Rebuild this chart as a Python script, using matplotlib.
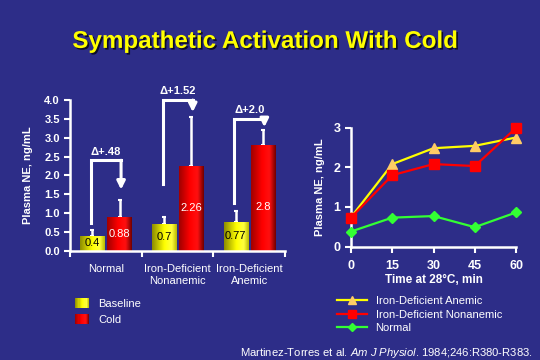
import numpy as np
import matplotlib
matplotlib.use("Agg")
import matplotlib.pyplot as plt
from matplotlib.colors import LinearSegmentedColormap
from matplotlib.patches import Patch, Rectangle
from matplotlib.legend_handler import HandlerBase
import matplotlib.patheffects as pe

BG = "#2d2d88"

# 柱状图数据
groups = ["Normal", "Iron-Deficient\nNonanemic", "Iron-Deficient\nAnemic"]
baseline = [0.4, 0.7, 0.77]
cold = [0.88, 2.26, 2.8]
baseline_err = [0.15, 0.2, 0.28]
cold_err = [0.47, 1.29, 0.4]
delta_labels = ["\u0394+.48", "\u0394+1.52", "\u0394+2.0"]

# 折线图数据
minutes = [0, 15, 30, 45, 60]
anemic = [0.74, 2.08, 2.48, 2.54, 2.75]
nonanemic = [0.73, 1.80, 2.08, 2.03, 2.99]
normal = [0.38, 0.73, 0.77, 0.49, 0.86]

plt.rcParams['font.family'] = ['Liberation Sans', 'DejaVu Sans']
plt.rcParams['mathtext.fontset'] = 'custom'
plt.rcParams['mathtext.rm'] = 'Liberation Sans'
plt.rcParams['mathtext.it'] = 'Liberation Sans:italic'

YEL = LinearSegmentedColormap.from_list(
    "yel", [(0, "#8c8c00"), (0.5, "#ffff00"), (0.8, "#ffff40"), (1, "#b8b800")])
RED = LinearSegmentedColormap.from_list(
    "red", [(0, "#a00000"), (0.45, "#ff0000"), (0.75, "#ff1010"), (1, "#700000")])


class HandlerGradient(HandlerBase):
    ''' 图例里的渐变色块 '''

    def __init__(self, cmap, n=12):
        super().__init__()
        self.cmap = cmap
        self.n = n

    def create_artists(self, legend, orig_handle, xdescent, ydescent,
                       width, height, fontsize, trans):
        arts = []
        dw = width / self.n
        for k in range(self.n):
            r = Rectangle((-xdescent + k * dw, -ydescent), dw * 1.05, height,
                          facecolor=self.cmap((k + 0.5) / self.n),
                          edgecolor="none", transform=trans)
            arts.append(r)
        return arts


def gradient_fill(ax, bars, cmap):
    ''' 给柱子加上圆柱状的渐变 '''
    grad = np.linspace(0, 1, 64).reshape(1, -1)
    for b in bars:
        x, y = b.get_x(), b.get_y()
        w, h = b.get_width(), b.get_height()
        im = ax.imshow(grad, cmap=cmap, extent=[x, x + w, y, y + h],
                       aspect='auto', zorder=2, interpolation='bicubic')
        im.set_clip_path(b)


def main():
    fig = plt.figure(figsize=(5.4, 3.6), dpi=100, facecolor=BG)

    fig.text(0.49, 0.885, "Sympathetic Activation With Cold", color="#ffff00",
             fontsize=17.4, fontweight="bold", ha="center", va="center",
             path_effects=[pe.withSimplePatchShadow(offset=(1.2, -1.2),
                                                     shadow_rgbFace="black",
                                                     alpha=0.7)])

    plot_bars(fig)
    plot_lines(fig)

    fig.text(0.987, 0.012,
             r"Martinez-Torres et al. $\it{Am\ J\ Physiol}$. 1984;246:R380-R383.",
             color="white", fontsize=8.1, ha="right", va="baseline")

    fig.savefig("out.png", dpi=100, facecolor=BG)


def plot_bars(fig):
    ax = fig.add_axes([0.13, 0.304, 0.398, 0.418])
    ax.set_facecolor(BG)
    x = np.arange(len(groups))
    w = 0.34
    off = 0.19

    b1 = ax.bar(x - off, baseline, w, facecolor="none", edgecolor="none", zorder=2)
    b2 = ax.bar(x + off, cold, w, facecolor="none", edgecolor="none", zorder=2)
    gradient_fill(ax, b1, YEL)
    gradient_fill(ax, b2, RED)

    # 误差线只向上
    ax.errorbar(x - off, baseline, yerr=[np.zeros(3), baseline_err], fmt="none",
                ecolor="white", elinewidth=1.8, capsize=1.5, capthick=1.5, zorder=1)
    ax.errorbar(x + off, cold, yerr=[np.zeros(3), cold_err], fmt="none",
                ecolor="white", elinewidth=1.8, capsize=1.5, capthick=1.5, zorder=1)

    # 数值标签
    for i in range(len(groups)):
        ax.text(x[i] - off, baseline[i] / 2, str(baseline[i]), color="black",
                fontsize=8, ha="center", va="center", zorder=3)
        ax.text(x[i] + off, min(cold[i] / 2, 1.15), str(cold[i]), color="white",
                fontsize=8, ha="center", va="center", zorder=3)

    # 基线 -> 冷刺激 的箭头括号
    start = [0.74, 1.77, 1.26]
    top = [2.4, 4.0, 3.5]
    tip = [1.62, 3.68, 3.28]
    for i in range(len(groups)):
        xa = x[i] - off - 0.02
        xb = x[i] + off + 0.02
        ax.plot([xa, xa, xb], [start[i], top[i], top[i]], color="white", lw=2.2,
                clip_on=False, zorder=4, solid_joinstyle="miter")
        ax.annotate("", xy=(xb, tip[i]), xytext=(xb, top[i]),
                    arrowprops=dict(arrowstyle="-|>", color="white", lw=2.2,
                                    mutation_scale=12, shrinkA=0, shrinkB=0),
                    annotation_clip=False, zorder=4)
        ax.text(x[i], top[i] + 0.1, delta_labels[i], color="white", fontsize=8,
                fontweight="bold", ha="center", va="bottom", clip_on=False)

    ax.set_xlim(-0.5, 2.5)
    ax.set_ylim(0, 4.0)
    ax.set_yticks(np.arange(0, 4.01, 0.5))
    ax.set_yticklabels(["%.1f" % v for v in np.arange(0, 4.01, 0.5)])
    ax.set_xticks(x)
    ax.set_xticklabels(groups)
    ax.set_xticks([-0.5, 0.5, 1.5, 2.5], minor=True)
    ax.tick_params(axis="x", which="major", length=0, pad=10, colors="white",
                   labelsize=8)
    ax.tick_params(axis="x", which="minor", length=4, width=1.5, color="white")
    ax.tick_params(axis="y", length=4, width=1.5, colors="white", labelsize=8)
    for lab in ax.get_yticklabels():
        lab.set_fontweight("bold")
    ax.set_ylabel("Plasma NE, ng/mL", color="white", fontsize=8,
                  fontweight="bold", labelpad=8)
    for s in ["top", "right"]:
        ax.spines[s].set_visible(False)
    for s in ["left", "bottom"]:
        ax.spines[s].set_color("white")
        ax.spines[s].set_linewidth(1.8)

    # 图例（渐变色块）
    h1, h2 = Patch(), Patch()
    fig.legend([h1, h2], ["Baseline", "Cold"], loc="upper left",
               bbox_to_anchor=(0.12, 0.2), frameon=False, fontsize=8,
               labelcolor="white", handlelength=1.3, handleheight=1.0,
               handletextpad=0.8, labelspacing=0.45,
               handler_map={h1: HandlerGradient(YEL), h2: HandlerGradient(RED)})


def plot_lines(fig):
    ax = fig.add_axes([0.65, 0.315, 0.3056, 0.3306])
    ax.set_facecolor(BG)

    l1, = ax.plot(minutes, anemic, color="#ffff00", lw=1.6, marker="^",
                  markersize=7.5, markerfacecolor="#ffcc66",
                  markeredgecolor="#ffcc66", clip_on=False, zorder=3)
    l2, = ax.plot(minutes, nonanemic, color="#ff0000", lw=1.6, marker="s",
                  markersize=6.5, markerfacecolor="#ff0000",
                  markeredgecolor="#ff0000", clip_on=False, zorder=3)
    l3, = ax.plot(minutes, normal, color="#33ff33", lw=1.6, marker="D",
                  markersize=5, markerfacecolor="#33ff33",
                  markeredgecolor="#33ff33", clip_on=False, zorder=3)

    ax.set_xlim(0, 60)
    ax.set_ylim(0, 3)
    ax.set_xticks(minutes)
    ax.set_yticks([0, 1, 2, 3])
    ax.tick_params(length=4, width=1.5, colors="white", labelsize=9)
    ax.tick_params(axis="x", pad=6)
    for lab in ax.get_xticklabels() + ax.get_yticklabels():
        lab.set_fontweight("bold")
    ax.set_xlabel("Time at 28\u00b0C, min", color="white", fontsize=8.5,
                  fontweight="bold", labelpad=1)
    ax.set_ylabel("Plasma NE, ng/mL", color="white", fontsize=8,
                  fontweight="bold", labelpad=6)
    for s in ["top", "right"]:
        ax.spines[s].set_visible(False)
    for s in ["left", "bottom"]:
        ax.spines[s].set_color("white")
        ax.spines[s].set_linewidth(1.8)

    fig.legend([l1, l2, l3], ["Iron-Deficient Anemic", "Iron-Deficient Nonanemic",
                              "Normal"],
               loc="upper left", bbox_to_anchor=(0.605, 0.205), frameon=False,
               fontsize=8, labelcolor="white", handlelength=2.7,
               handletextpad=0.8, labelspacing=0.3, markerscale=0.8)


if __name__ == "__main__":
    main()
